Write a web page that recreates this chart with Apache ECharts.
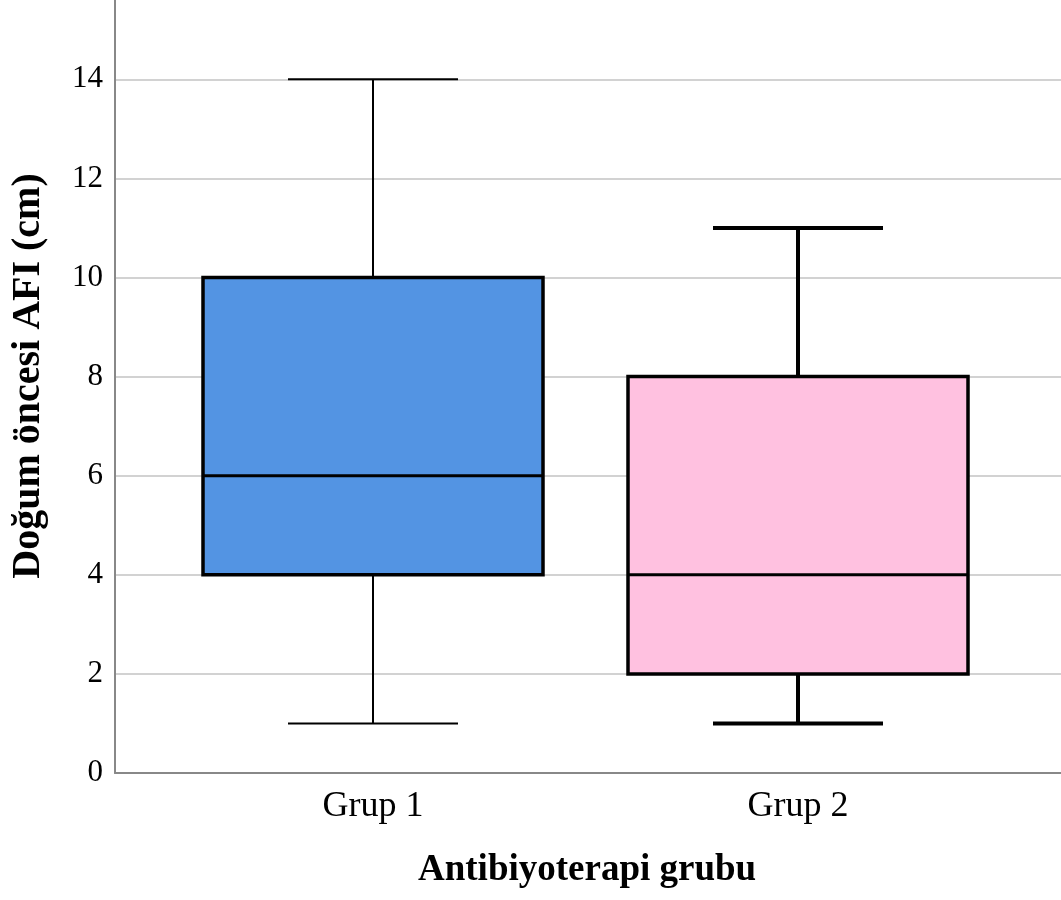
<!DOCTYPE html>
<html><head><meta charset="utf-8">
<script src="https://cdn.jsdelivr.net/npm/echarts@6/dist/echarts.min.js"></script>
<style>html,body{margin:0;padding:0;background:#fff}#c{width:1061px;height:900px}</style>
</head><body><div id="c"></div>
<script>
const categories = ['Grup 1', 'Grup 2'];
const mins = [1, 1];
const q1s = [4, 2];
const medians = [6, 4];
const q3s = [10, 8];
const maxs = [14, 11];
const boxColors = ['#5394E3', '#FFC1E0'];
const whiskerWidths = [2, 4];
const yTicks = [0, 2, 4, 6, 8, 10, 12, 14];
const yTitle = 'Doğum öncesi AFI (cm)';
const xTitle = 'Antibiyoterapi grubu';

const FONT = '"Liberation Serif", "Times New Roman", serif';
const chart = echarts.init(document.getElementById('c'));
const data = categories.map((c, i) => [i, mins[i], q1s[i], medians[i], q3s[i], maxs[i]]);

function renderItem(params, api) {
  const i = api.value(0);
  const x = api.coord([i, 0])[0];
  const band = api.size([1, 0])[0];
  const bw = band * 0.8, cw = band * 0.4;
  const yMin = api.coord([i, api.value(1)])[1];
  const yQ1 = api.coord([i, api.value(2)])[1];
  const yMed = api.coord([i, api.value(3)])[1];
  const yQ3 = api.coord([i, api.value(4)])[1];
  const yMax = api.coord([i, api.value(5)])[1];
  const ww = whiskerWidths[i];
  const ls = {stroke: '#000', lineWidth: ww};
  return {type: 'group', children: [
    {type: 'line', shape: {x1: x, y1: yQ3, x2: x, y2: yMax}, style: ls},
    {type: 'line', shape: {x1: x, y1: yQ1, x2: x, y2: yMin}, style: ls},
    {type: 'line', shape: {x1: x - cw / 2, y1: yMax, x2: x + cw / 2, y2: yMax}, style: ls},
    {type: 'line', shape: {x1: x - cw / 2, y1: yMin, x2: x + cw / 2, y2: yMin}, style: ls},
    {type: 'rect', shape: {x: x - bw / 2, y: yQ3, width: bw, height: yQ1 - yQ3}, style: {fill: boxColors[i], stroke: '#000', lineWidth: 3.5}},
    {type: 'line', shape: {x1: x - bw / 2, y1: yMed, x2: x + bw / 2, y2: yMed}, style: {stroke: '#000', lineWidth: 3}}
  ]};
}

const YMAX = 15.6;
chart.setOption({
  animation: false,
  grid: [
    {left: 115, right: 0, top: 0, bottom: 127},
    {left: 160.5, right: 50.5, top: 0, bottom: 127}
  ],
  xAxis: [
    {type: 'category', gridIndex: 0, data: categories, axisLine: {lineStyle: {color: '#888', width: 2}}, axisTick: {show: false}, axisLabel: {show: false}},
    {type: 'category', gridIndex: 1, data: categories, axisLine: {show: false}, axisTick: {show: false},
     axisLabel: {fontFamily: FONT, fontSize: 36, color: '#000', margin: 16}}
  ],
  yAxis: [
    {type: 'value', gridIndex: 0, min: 0, max: YMAX, interval: 2,
     axisLine: {show: true, lineStyle: {color: '#888', width: 2}}, axisTick: {show: false},
     axisLabel: {fontFamily: FONT, fontSize: 31, color: '#000', margin: 12, showMaxLabel: false,
       formatter: v => yTicks.includes(v) ? String(v) : ''},
     splitLine: {showMaxLine: false, lineStyle: {color: '#d2d2d2', width: 2}}},
    {type: 'value', gridIndex: 1, min: 0, max: YMAX, show: false, splitLine: {show: false}}
  ],
  graphic: [
    {type: 'text', x: 418, y: 852, style: {text: xTitle, font: 'bold 37px ' + FONT, fill: '#000'}},
    {type: 'text', rotation: Math.PI / 2, x: 9, y: 376, style: {text: yTitle, font: 'bold 40px ' + FONT, fill: '#000', align: 'center', verticalAlign: 'top'}}
  ],
  series: [{
    type: 'custom', xAxisIndex: 1, yAxisIndex: 1, renderItem: renderItem,
    encode: {x: 0, y: [1, 2, 3, 4, 5]}, data: data
  }]
});
</script></body></html>
